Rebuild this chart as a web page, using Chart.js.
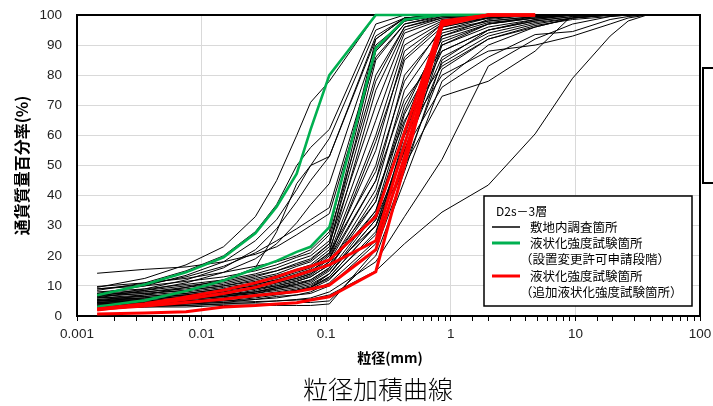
<!DOCTYPE html>
<html>
<head>
<meta charset="utf-8">
<script src="https://cdn.jsdelivr.net/npm/chart.js@4"></script>
<style>
  html, body { margin: 0; padding: 0; background: #fff; }
  canvas { display: block; }
</style>
</head>
<body>
<canvas id="chart" width="713" height="406"></canvas>
<script>
// Grain sizes (mm): hydrometer readings followed by sieve openings
const grainSizes = [0.00145, 0.0035, 0.0075, 0.015, 0.027, 0.04, 0.058, 0.075,
                    0.106, 0.25, 0.425, 0.85, 2, 4.75, 9.5, 19, 26.5, 37.5];

// Percent passing, one row per sample — in-site investigation points (black)
const siteCurves = [
  [9.5, 12.5, 17, 23, 33, 45, 60, 71, 78, 100, 100, 100, 100, 100, 100, 100, 100, 100],
  [8.5, 11, 15, 20, 28, 37, 50, 56, 62, 97, 100, 100, 100, 100, 100, 100, 100, 100],
  [7.5, 10, 13.5, 18, 25, 32, 42, 50, 59, 95, 99, 100, 100, 100, 100, 100, 100, 100],
  [6.5, 9, 12, 16, 22, 29, 38, 45, 53, 93, 99, 100, 100, 100, 100, 100, 100, 100],
  [6, 8.5, 11, 14.5, 19, 24, 31, 37, 44, 90, 98, 100, 100, 100, 100, 100, 100, 100],
  [14.2, 15.5, 16.3, 18, 20.5, 23, 27, 30, 34, 86, 97, 100, 100, 100, 100, 100, 100, 100],
  [5, 7, 9.5, 12, 16, 28, 44, 50, 53, 92, 99, 100, 100, 100, 100, 100, 100, 100],
  [9, 10.5, 13, 16.5, 21, 25, 29, 32, 36, 88, 98, 100, 100, 100, 100, 100, 100, 100],
  [9.8, 11, 12.5, 14.5, 16.5, 18, 20, 22, 28, 92, 99, 100, 100, 100, 100, 100, 100, 100],
  [8, 9, 10.5, 12, 14, 16, 18.5, 20, 25, 88, 98, 100, 100, 100, 100, 100, 100, 100],
  [7, 8, 9, 10.5, 12.5, 14, 16.5, 18, 23, 85, 97, 99.5, 100, 100, 100, 100, 100, 100],
  [9, 10, 11.5, 13, 15, 17, 19.5, 21, 27, 80, 96, 99, 100, 100, 100, 100, 100, 100],
  [6, 7, 8, 9.5, 11, 12.5, 14.5, 16, 21, 75, 95, 99, 100, 100, 100, 100, 100, 100],
  [7.5, 8.5, 10, 11.5, 13.5, 15, 17.5, 19, 24, 70, 94, 98.5, 100, 100, 100, 100, 100, 100],
  [6.5, 7.5, 8.5, 10, 12, 13.5, 15.5, 17, 22, 65, 92, 98, 99.5, 100, 100, 100, 100, 100],
  [5.5, 6.5, 7.5, 9, 10.5, 12, 14, 15.5, 20.5, 60, 90, 97.5, 99.5, 100, 100, 100, 100, 100],
  [5, 6, 7, 8.5, 10, 11.5, 13, 14.5, 20, 55, 88, 97, 99, 100, 100, 100, 100, 100],
  [5, 5.5, 6.5, 8, 9.5, 11, 12.5, 14, 19, 50, 85, 96, 99, 100, 100, 100, 100, 100],
  [4.5, 5.5, 6.5, 7.5, 9, 10.5, 12, 13.5, 18, 45, 80, 95, 98, 99.5, 100, 100, 100, 100],
  [4.5, 5, 6, 7, 8.5, 10, 11.5, 13, 17, 42, 75, 93, 97.5, 99, 100, 100, 100, 100],
  [4, 5, 5.5, 6.5, 8, 9.5, 11, 12, 16, 38, 70, 92, 97, 99, 100, 100, 100, 100],
  [4, 4.5, 5.5, 6.5, 7.5, 9, 10, 11, 15, 35, 67, 90, 96, 98.5, 100, 100, 100, 100],
  [3.5, 4.5, 5, 6, 7, 8, 9, 10, 14, 32, 62, 88, 95, 98, 99.5, 100, 100, 100],
  [3.5, 4, 5, 5.5, 6.5, 7.5, 8.5, 9.5, 13, 30, 58, 86, 94, 97.5, 99, 100, 100, 100],
  [3, 4, 4.5, 5, 6, 7, 8, 9, 12, 28, 55, 84, 93, 97, 99, 100, 100, 100],
  [3, 3.5, 4, 5, 5.5, 6.5, 7, 8, 11, 25, 50, 82, 92, 96.5, 98.5, 99.5, 100, 100],
  [3, 3.5, 4, 4.5, 4.8, 5, 5.3, 5.6, 7, 15, 24, 34.5, 43.5, 60.5, 79, 93, 98, 100],
  [2.5, 3, 3.5, 4, 4.5, 5, 5.5, 6, 8, 18, 33, 52, 83, 92, 97, 99.5, 100, 100],
  [4, 4.5, 5, 6, 7, 7.5, 8.5, 9.5, 13, 30, 50, 73, 78, 88, 100, 100, 100, 100],
  [3.5, 4, 4.5, 5.5, 6.5, 7.5, 8.5, 9.5, 14, 32, 55, 76, 86, 93.5, 94.5, 98.5, 99.5, 100],
  [5, 5.5, 6.5, 7.5, 9, 10, 11.5, 13, 17, 35, 60, 80, 88, 90, 93, 97, 99, 100],
  [4.5, 5, 6, 7, 8, 9.5, 10.5, 12, 16, 40, 65, 83, 92, 96, 99, 100, 100, 100],
  [6, 6.5, 7.5, 9, 10.5, 12, 13.5, 15, 19, 45, 72, 88, 95, 98, 99.5, 100, 100, 100],
  [2.5, 3, 3, 3.5, 3.5, 3.5, 3.5, 3.5, 4, 22, 48, 85, 95, 98.5, 100, 100, 100, 100],
  [3, 3.5, 3.5, 4, 4, 4, 4.5, 4.5, 5, 20, 45, 78, 90, 96, 99, 100, 100, 100],
  [4, 4.5, 5.5, 6.5, 7.5, 8.5, 9.5, 10.5, 14, 34, 64, 95, 99, 100, 100, 100, 100, 100],
  [3.5, 4, 4.5, 5.5, 6.5, 7.5, 8.5, 9.5, 12.5, 27, 60, 93, 98.5, 100, 100, 100, 100, 100],
  [5.5, 6, 7, 8, 9.5, 11, 12.5, 14, 18, 38, 68, 94, 98, 99.5, 100, 100, 100, 100],
  [4.5, 5, 6, 7, 8, 9, 10.5, 11.5, 15.5, 30, 55, 91, 97, 99.5, 100, 100, 100, 100],
  [6.5, 7.5, 8.5, 10, 11.5, 13, 15, 16.5, 21, 48, 78, 96, 99, 100, 100, 100, 100, 100],
  [3, 3.5, 4, 4.5, 5.5, 6, 7, 7.5, 10, 24, 52, 90, 97, 99, 100, 100, 100, 100],
  [5, 6, 7, 8.5, 10, 11.5, 13.5, 15, 19, 58, 86, 97, 99.5, 100, 100, 100, 100, 100],
  [7, 8, 9.5, 11, 13, 15, 17, 18.5, 24, 78, 96, 99.5, 100, 100, 100, 100, 100, 100]
];

// Liquefaction strength test points, permit application stage (green)
const permitCurves = [
  [6.9, 10.5, 14.5, 19.5, 27.5, 36.3, 47.3, 62, 80, 100, 100, 100, 100],
  [3.1, 5.2, 8.3, 11.8, 15.7, 18.3, 21.3, 23, 29.5, 89, 98.4, 100, 100]
];

// Additional liquefaction strength test points (red)
const extraCurves = [
  [2.3, 4.1, 6.3, 8.6, 11, 13, 15.3, 16.5, 18.6, 33, 61, 98, 100, 100],
  [2.0, 3.8, 5.6, 7.5, 9.5, 11.5, 13.5, 15, 17, 25, 57, 97.5, 100, 100],
  [2.2, 3.3, 4.5, 5.6, 6.8, 7.5, 8.1, 9, 10.3, 22, 53, 97, 100, 100],
  [0.7, 1.0, 1.4, 3.0, 3.5, 4.0, 4.4, 5.3, 6.4, 14.7, 50, 96.5, 100, 100]
];

const xTickLabels = ['0.001', '0.01', '0.1', '1', '10', '100'];
const yTicks = [0, 10, 20, 30, 40, 50, 60, 70, 80, 90, 100];

const legendTitle = 'D2s－3層';
const legendRows = [
  { color: '#000000', width: 1.5, lines: ['敷地内調査箇所'] },
  { color: '#00b050', width: 3, lines: ['液状化強度試験箇所', '（設置変更許可申請段階）'] },
  { color: '#ff0000', width: 3, lines: ['液状化強度試験箇所', '（追加液状化強度試験箇所）'] }
];

const JP = '"Noto Sans CJK JP", "Noto Sans", sans-serif';
const NUM = '"Liberation Sans", Arial, sans-serif';

function toPoints(vals) {
  return vals.map((v, i) => ({ x: grainSizes[i], y: v }));
}

function curveSet(rows, color, width, order) {
  return rows.map(r => ({
    data: toPoints(r),
    borderColor: color,
    backgroundColor: color,
    borderWidth: width,
    pointRadius: 0,
    pointHoverRadius: 0,
    showLine: true,
    tension: 0,
    fill: false,
    clip: false,
    order: order
  }));
}

const datasets = [
  ...curveSet(extraCurves, '#ff0000', 3, 0),
  ...curveSet(permitCurves, '#00b050', 2.6, 1),
  ...curveSet(siteCurves, '#000000', 1, 2)
];

function decadeIndex(v) {
  const e = Math.log10(v);
  const r = Math.round(e);
  return Math.abs(e - r) < 1e-6 ? r + 3 : -1;
}

// keep the plot area fixed: no extra room reserved for overhanging labels
function fixPadding(scale) {
  scale.paddingTop = 0;
  scale.paddingBottom = 0;
  scale.paddingLeft = 0;
  scale.paddingRight = 0;
}

// frame around the plot area, drawn under the curves
const framePlugin = {
  id: 'frame',
  beforeDatasetsDraw(chart) {
    const { ctx, chartArea: a } = chart;
    ctx.save();
    ctx.strokeStyle = '#000';
    ctx.lineWidth = 2;
    ctx.strokeRect(a.left, a.top, a.right - a.left, a.bottom - a.top);
    ctx.restore();
  }
};

// axis titles, chart title and the boxed legend
const annotationPlugin = {
  id: 'annotations',
  afterDraw(chart) {
    const { ctx, chartArea: a } = chart;
    ctx.save();
    ctx.fillStyle = '#000';
    ctx.textAlign = 'center';
    ctx.textBaseline = 'middle';

    // y axis title
    ctx.save();
    ctx.translate(22, (a.top + a.bottom) / 2);
    ctx.rotate(-Math.PI / 2);
    ctx.font = 'bold 16px ' + JP;
    ctx.fillText('通貨質量百分率(%)', 0, 0);
    ctx.restore();

    // x axis title
    ctx.font = 'bold 14px ' + JP;
    ctx.fillText('粒径(mm)', 390, 358);

    // chart title
    ctx.font = '300 25px ' + JP;
    ctx.fillText('粒径加積曲線', 378, 389);

    // side box at the right edge
    ctx.fillStyle = '#fff';
    ctx.fillRect(703, 68, 20, 115);
    ctx.strokeStyle = '#000';
    ctx.lineWidth = 2;
    ctx.strokeRect(703, 68, 20, 115);

    // legend
    const bx = 484, by = 196, bw = 208, bh = 110;
    ctx.fillStyle = '#fff';
    ctx.fillRect(bx, by, bw, bh);
    ctx.lineWidth = 1.5;
    ctx.strokeStyle = '#000';
    ctx.strokeRect(bx, by, bw, bh);

    ctx.textAlign = 'left';
    ctx.fillStyle = '#000';
    ctx.font = '12px ' + JP;
    ctx.fillText(legendTitle, 496, 211);

    let y = 227;
    const lineStep = 16;
    ctx.font = '12.5px ' + JP;
    legendRows.forEach(row => {
      ctx.strokeStyle = row.color;
      ctx.lineWidth = row.width;
      ctx.beginPath();
      ctx.moveTo(492, y);
      ctx.lineTo(520, y);
      ctx.stroke();
      row.lines.forEach((t, i) => {
        const x = t.startsWith('（') ? 520 : 530;
        ctx.fillText(t, x, y + i * lineStep);
      });
      y += row.lines.length * lineStep + (row.lines.length > 1 ? 1 : 0);
    });
    ctx.restore();
  }
};

new Chart(document.getElementById('chart'), {
  type: 'scatter',
  data: { datasets },
  plugins: [framePlugin, annotationPlugin],
  options: {
    responsive: false,
    devicePixelRatio: 1,
    animation: false,
    events: [],
    layout: { padding: { left: 0, right: 13, top: 15, bottom: 0 } },
    plugins: {
      legend: { display: false },
      tooltip: { enabled: false },
      title: { display: false }
    },
    scales: {
      x: {
        type: 'logarithmic',
        min: 0.001,
        max: 100,
        afterFit(scale) { scale.height = 90; fixPadding(scale); },
        border: { color: '#000', width: 2 },
        grid: {
          color: ctx => {
            const d = decadeIndex(ctx.tick.value);
            return d > 0 && d < 5 ? '#d9d9d9' : 'rgba(0,0,0,0)';
          },
          tickColor: '#000',
          tickLength: 5,
          lineWidth: 1
        },
        ticks: {
          autoSkip: false,
          maxRotation: 0,
          padding: 5,
          color: '#222',
          font: { family: NUM, size: 13.5 },
          callback: v => {
            const d = decadeIndex(v);
            return d >= 0 ? xTickLabels[d] : '';
          }
        }
      },
      y: {
        min: 0,
        max: 100,
        afterFit(scale) { scale.width = 77; fixPadding(scale); },
        afterBuildTicks(scale) { scale.ticks = yTicks.map(v => ({ value: v })); },
        border: { color: '#000', width: 2 },
        grid: { color: '#d9d9d9', lineWidth: 1, drawTicks: false },
        ticks: {
          padding: 15,
          color: '#222',
          font: { family: NUM, size: 13.5 }
        }
      }
    }
  }
});
</script>
</body>
</html>
